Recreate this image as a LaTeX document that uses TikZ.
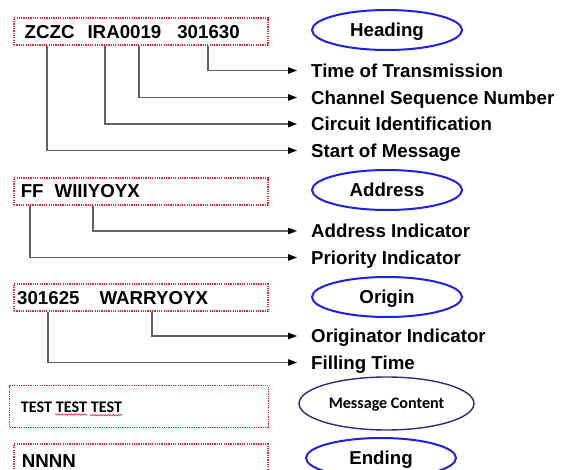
\documentclass[tikz,border=0pt]{standalone}
\usepackage{fontspec}
\setmainfont{Liberation Sans}
\newfontfamily\calibrifont{Carlito}
\usetikzlibrary{arrows.meta,shapes.geometric,decorations.pathmorphing,calc}

\definecolor{fieldred}{RGB}{232,38,46}
\definecolor{partblue}{RGB}{32,32,224}
\definecolor{partnavy}{RGB}{44,44,120}
\definecolor{linkgray}{RGB}{96,96,96}

\tikzset{
  field/.style={rectangle, draw=fieldred, line width=2pt,
    dash pattern=on 1.2pt off 1.1pt, anchor=north west, inner sep=0pt,
    minimum width=254pt, minimum height=27pt},
  thinfield/.style={field, line width=1.4pt, minimum width=259pt, minimum height=42pt},
  fieldtext/.style={anchor=base west, inner sep=0pt,
    font=\bfseries\fontsize{18.7}{20}\selectfont},
  part/.style={ellipse, draw=partblue, line width=2pt, inner sep=0pt,
    minimum width=150pt, minimum height=40pt, text height=13.4pt, text depth=0pt,
    font=\bfseries\fontsize{18.7}{20}\selectfont},
  label/.style={anchor=west, inner xsep=14pt, inner ysep=0pt,
    text height=13.4pt, text depth=0pt,
    font=\bfseries\fontsize{18.7}{20}\selectfont},
  link/.style={draw=linkgray, line width=1.2pt,
    -{Triangle[length=9pt,width=6.5pt,color=black]}},
}

\begin{document}
\begin{tikzpicture}[x=1pt, y=-1pt]
  \useasboundingbox (0,0) rectangle (562,470);
  \clip (0,0) rectangle (562,470);

  % ---- Heading ----
  \node[field] (hbox) at (13,17) {};
  \node[fieldtext] (htext) at (24.5,38.3) {ZCZC\hspace{13pt}IRA0019\hspace{16pt}301630};
  \node[part] (heading) at (387,30) {Heading};
  \node[label] (tt) at (297,70.5) {Time of Transmission};
  \node[label] (csn) at (297,97.5) {Channel Sequence Number};
  \node[label] (ci) at (297,124) {Circuit Identification};
  \node[label] (som) at (297,150.5) {Start of Message};
  \coordinate (hzczc) at ($(hbox.south west)+(34,0)$);
  \coordinate (hcirc) at ($(hbox.south west)+(92,0)$);
  \coordinate (hseq)  at ($(hbox.south west)+(126,0)$);
  \coordinate (htime) at ($(hbox.south west)+(195,0)$);
  \draw[link] (htime) |- (tt.west);
  \draw[link] (hseq)  |- (csn.west);
  \draw[link] (hcirc) |- (ci.west);
  \draw[link] (hzczc) |- (som.west);

  % ---- Address ----
  \node[field] (abox) at (13,177) {};
  \node[fieldtext] (atext) at (20.6,198) {FF\hspace{11pt}WIIIYOYX};
  \node[part] (address) at (387,190) {Address};
  \node[label] (ai) at (297,231) {Address Indicator};
  \node[label] (pi) at (297,257.5) {Priority Indicator};
  \coordinate (aprio) at ($(abox.south west)+(17,0)$);
  \coordinate (aaddr) at ($(abox.south west)+(80,0)$);
  \draw[link] (aaddr) |- (ai.west);
  \draw[link] (aprio) |- (pi.west);

  % ---- Origin ----
  \node[field] (obox) at (13,283) {};
  \node[fieldtext] (otext) at (17,305) {301625\hspace{20pt}WARRYOYX};
  \node[part] (origin) at (387,297) {Origin};
  \node[label] (oi) at (297,336) {Originator Indicator};
  \node[label] (ft) at (297,362.5) {Filling Time};
  \coordinate (ofile) at ($(obox.south west)+(35,0)$);
  \coordinate (oorig) at ($(obox.south west)+(139,0)$);
  \draw[link] (oorig) |- (oi.west);
  \draw[link] (ofile) |- (ft.west);

  % ---- Message content ----
  \node[thinfield] (mbox) at (9,385) {};
  \node[anchor=base west, inner sep=0pt, font=\calibrifont\bfseries\fontsize{16.2}{18}\selectfont]
    (mtext) at (20.7,412) {TEST TEST TEST};
  \draw[fieldred, line width=0.6pt, decorate,
        decoration={snake, amplitude=0.7pt, segment length=2.6pt}]
    (55,414.5) -- (87,414.5) (90,414.5) -- (122,414.5);
  \node[part, draw=partnavy, line width=1.4pt, minimum width=175pt, minimum height=53pt,
        text height=10.4pt,
        font=\calibrifont\bfseries\fontsize{16.1}{18}\selectfont]
    (content) at (386.5,403.5) {Message Content};

  % ---- Ending ----
  \node[field] (ebox) at (13,443) {};
  \node[fieldtext] (etext) at (21.6,467) {NNNN};
  \node[part] (ending) at (381,458) {Ending};
\end{tikzpicture}
\end{document}
